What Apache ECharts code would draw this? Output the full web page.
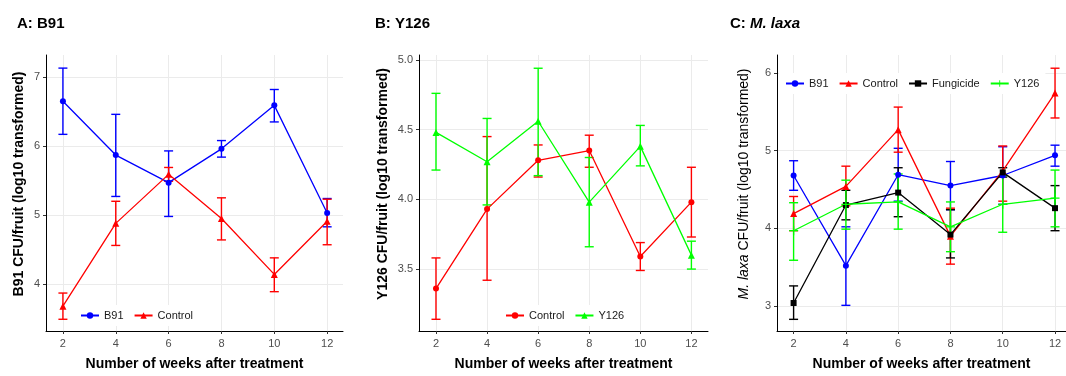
<!DOCTYPE html>
<html>
<head>
<meta charset="utf-8">
<script src="https://cdn.jsdelivr.net/npm/echarts@6/dist/echarts.min.js"></script>
<style>
html, body { margin: 0; padding: 0; background: #fff; }
#chart { width: 1066px; height: 376px; }
</style>
</head>
<body>
<div id="chart"></div>
<script>
// x 값 (처리 후 주)
var weeks = [2, 4, 6, 8, 10, 12];

// A: B91
var aB91 = [6.65, 5.87, 5.47, 5.96, 6.59, 5.03];
var aB91Lo = [6.17, 5.27, 4.98, 5.84, 6.35, 4.83];
var aB91Hi = [7.13, 6.46, 5.93, 6.08, 6.82, 5.24];
var aCtl = [3.68, 4.88, 5.59, 4.95, 4.14, 4.91];
var aCtlLo = [3.49, 4.56, 5.49, 4.64, 3.89, 4.57];
var aCtlHi = [3.87, 5.20, 5.69, 5.25, 4.38, 5.23];

// B: Y126
var bCtl = [3.36, 3.93, 4.28, 4.35, 3.59, 3.98];
var bCtlLo = [3.14, 3.42, 4.16, 4.23, 3.49, 3.73];
var bCtlHi = [3.58, 4.45, 4.39, 4.46, 3.69, 4.23];
var bY126 = [4.48, 4.27, 4.56, 3.98, 4.38, 3.60];
var bY126Lo = [4.21, 3.96, 4.17, 3.66, 4.24, 3.50];
var bY126Hi = [4.76, 4.58, 4.94, 4.30, 4.53, 3.70];

// C: M. laxa
var cB91 = [4.68, 3.52, 4.69, 4.55, 4.68, 4.94];
var cB91Lo = [4.49, 3.01, 4.35, 4.24, 4.31, 4.80];
var cB91Hi = [4.87, 4.02, 5.03, 4.86, 5.05, 5.07];
var cCtl = [4.19, 4.54, 5.27, 3.90, 4.74, 5.74];
var cCtlLo = [3.97, 4.29, 4.98, 3.54, 4.35, 5.42];
var cCtlHi = [4.41, 4.80, 5.56, 4.26, 5.06, 6.06];
var cFung = [3.04, 4.30, 4.46, 3.92, 4.72, 4.26];
var cFungLo = [2.83, 4.11, 4.15, 3.62, 4.66, 3.97];
var cFungHi = [3.26, 4.49, 4.78, 4.24, 4.78, 4.55];
var cY126 = [3.97, 4.31, 4.34, 4.02, 4.31, 4.39];
var cY126Lo = [3.59, 3.99, 3.99, 3.70, 3.95, 4.02];
var cY126Hi = [4.33, 4.62, 4.70, 4.34, 4.68, 4.75];

// 눈금
var xTicks = [2, 4, 6, 8, 10, 12];
var aTicks = [4, 5, 6, 7];
var bTicks = [3.5, 4.0, 4.5, 5.0];
var cTicks = [3, 4, 5, 6];

var FONT = '"Liberation Sans", Arial, sans-serif';
var BLUE = '#0000ff', RED = '#ff0000', GREEN = '#00ff00', BLACK = '#000000';
var PLUS = 'path://M-0.14,-1H0.14V-0.14H1V0.14H0.14V1H-0.14V0.14H-1V-0.14H-0.14Z';

function pairs(v) {
  return weeks.map(function (w, i) { return [w, v[i]]; });
}
function bars(lo, hi) {
  return weeks.map(function (w, i) { return [w, lo[i], hi[i]]; });
}

// 에러바 그리기
function renderErr(params, api) {
  var x = api.value(0);
  var top = api.coord([x, api.value(2)]);
  var bot = api.coord([x, api.value(1)]);
  var w = 4.5;
  var style = { stroke: api.visual('color'), lineWidth: 1.4 };
  return {
    type: 'group',
    children: [
      { type: 'line', shape: { x1: top[0], y1: top[1], x2: bot[0], y2: bot[1] }, style: style },
      { type: 'line', shape: { x1: top[0] - w, y1: top[1], x2: top[0] + w, y2: top[1] }, style: style },
      { type: 'line', shape: { x1: bot[0] - w, y1: bot[1], x2: bot[0] + w, y2: bot[1] }, style: style }
    ]
  };
}

function lineS(name, vals, color, symbol, size, idx) {
  return {
    name: name,
    type: 'line',
    xAxisIndex: idx,
    yAxisIndex: idx,
    data: pairs(vals),
    symbol: symbol,
    symbolSize: size,
    color: color,
    lineStyle: { width: 1.3, color: color },
    itemStyle: { color: color },
    animation: false,
    z: 3
  };
}

function errS(name, lo, hi, color, idx) {
  return {
    name: name + '_err',
    type: 'custom',
    xAxisIndex: idx,
    yAxisIndex: idx,
    data: bars(lo, hi),
    encode: { x: 0, y: [1, 2] },
    renderItem: renderErr,
    itemStyle: { color: color },
    animation: false,
    z: 2
  };
}

function xAx(idx, min, max) {
  return {
    type: 'value',
    gridIndex: idx,
    min: min,
    max: max,
    name: 'Number of weeks after treatment',
    nameLocation: 'middle',
    nameGap: 26,
    nameTextStyle: { fontSize: 14, fontWeight: 'bold', color: '#000', fontFamily: FONT },
    axisLine: { show: true, onZero: false, lineStyle: { color: '#000', width: 1 } },
    axisTick: { show: true, length: 3, customValues: xTicks, lineStyle: { color: '#333' } },
    axisLabel: { customValues: xTicks, margin: 7, fontSize: 11, color: '#4d4d4d', fontFamily: FONT },
    splitLine: { show: true, lineStyle: { color: '#ebebeb', width: 1 } }
  };
}

function yAx(idx, min, max, ticks, name, gap, fmt, weight) {
  return {
    type: 'value',
    gridIndex: idx,
    min: min,
    max: max,
    name: name,
    nameLocation: 'middle',
    nameGap: gap,
    nameTextStyle: {
      fontSize: 14, fontWeight: weight, color: '#000', fontFamily: FONT,
      padding: [0, 0, 0, 18],
      rich: { i: { fontStyle: 'italic', fontSize: 14, fontWeight: weight, color: '#000', fontFamily: FONT } }
    },
    axisLine: { show: true, onZero: false, lineStyle: { color: '#000', width: 1 } },
    axisTick: { show: true, length: 3, customValues: ticks, lineStyle: { color: '#333' } },
    axisLabel: { customValues: ticks, margin: 6, fontSize: 11, color: '#4d4d4d', fontFamily: FONT, formatter: fmt },
    splitLine: { show: true, lineStyle: { color: '#ebebeb', width: 1 } }
  };
}

function legendOf(names, left, top) {
  return {
    data: names,
    left: left,
    top: top,
    orient: 'horizontal',
    itemWidth: 18,
    itemHeight: 8,
    itemGap: 10,
    padding: [5, 6],
    backgroundColor: '#fff',
    textStyle: { fontSize: 11, color: '#1a1a1a', fontFamily: FONT },
    formatter: function (n) { return n.split('_')[1]; },
    selectedMode: false
  };
}

var chart = echarts.init(document.getElementById('chart'));

var titleStyle = { fontSize: 15, fontWeight: 'bold', color: '#000', fontFamily: FONT };

var option = {
  backgroundColor: '#fff',
  animation: false,
  title: [
    { text: 'A: B91', left: 17, top: 16, padding: 0, textStyle: titleStyle },
    { text: 'B: Y126', left: 375, top: 16, padding: 0, textStyle: titleStyle },
    {
      text: '{b|C: }{i|M. laxa}', left: 730, top: 16, padding: 0,
      textStyle: {
        rich: {
          b: { fontSize: 15, fontWeight: 'bold', color: '#000', fontFamily: FONT },
          i: { fontSize: 15, fontStyle: 'italic', color: '#000', fontFamily: FONT }
        }
      }
    }
  ],
  grid: [
    { left: 46, top: 55, width: 297, height: 281 },
    { left: 419, top: 55, width: 289, height: 281 },
    { left: 777, top: 55, width: 289, height: 281 }
  ],
  xAxis: [
    xAx(0, 1.36, 12.6),
    xAx(1, 1.335, 12.65),
    xAx(2, 1.365, 12.42)
  ],
  yAxis: [
    yAx(0, 3.32, 7.32, aTicks, 'B91 CFU/fruit (log10 transformed)', 20, function (v) { return String(v); }, 'bold'),
    yAx(1, 3.056, 5.035, bTicks, 'Y126 CFU/fruit (log10 transformed)', 29, function (v) { return v.toFixed(1); }, 'bold'),
    yAx(2, 2.68, 6.23, cTicks, '{i|M. laxa} CFU/fruit (log10 transformed)', 26, function (v) { return String(v); }, 'normal')
  ],
  legend: [
    legendOf(['A_B91', 'A_Control'], 74, 305),
    legendOf(['B_Control', 'B_Y126'], 499, 305),
    legendOf(['C_B91', 'C_Control', 'C_Fungicide', 'C_Y126'], 779, 73)
  ],
  series: [
    errS('A_B91', aB91Lo, aB91Hi, BLUE, 0),
    errS('A_Control', aCtlLo, aCtlHi, RED, 0),
    lineS('A_B91', aB91, BLUE, 'circle', 6, 0),
    lineS('A_Control', aCtl, RED, 'triangle', 7, 0),

    errS('B_Control', bCtlLo, bCtlHi, RED, 1),
    errS('B_Y126', bY126Lo, bY126Hi, GREEN, 1),
    lineS('B_Control', bCtl, RED, 'circle', 6, 1),
    lineS('B_Y126', bY126, GREEN, 'triangle', 7, 1),

    errS('C_B91', cB91Lo, cB91Hi, BLUE, 2),
    errS('C_Control', cCtlLo, cCtlHi, RED, 2),
    errS('C_Fungicide', cFungLo, cFungHi, BLACK, 2),
    errS('C_Y126', cY126Lo, cY126Hi, GREEN, 2),
    lineS('C_B91', cB91, BLUE, 'circle', 6, 2),
    lineS('C_Control', cCtl, RED, 'triangle', 7, 2),
    lineS('C_Fungicide', cFung, BLACK, 'rect', 6, 2),
    lineS('C_Y126', cY126, GREEN, PLUS, 9, 2)
  ]
};

//  차트 옵션 설정하기
chart.setOption(option);
</script>
</body>
</html>
